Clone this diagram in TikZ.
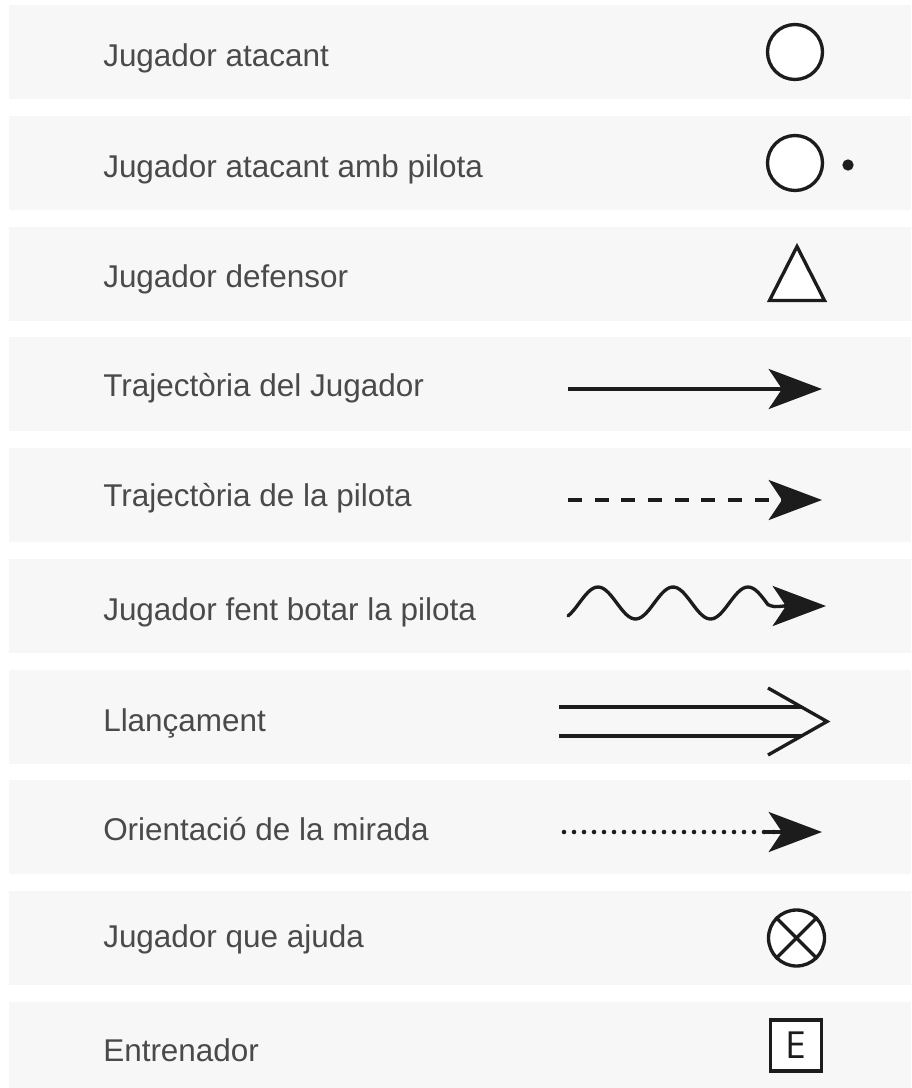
\documentclass[tikz,border=0pt]{standalone}
\usepackage{fontspec}
\setmainfont{Liberation Sans}
\newfontfamily\boxfont{Open Sans}
\usetikzlibrary{arrows.meta, positioning}

\definecolor{bandgrey}{HTML}{F7F7F7}
\definecolor{txtgrey}{HTML}{4A4A4A}
\definecolor{ink}{HTML}{1C1C1C}

\begin{document}
\begin{tikzpicture}[x=0.75pt, y=-0.75pt,
      band/.style={fill=bandgrey, draw=none},
      lbl/.style={anchor=base west, inner sep=0pt, text=txtgrey,
                  font=\fontsize{23.6}{28}\selectfont},
      sym/.style={draw=ink, line width=2.5pt, fill=white, inner sep=0pt},
      arrline/.style={draw=ink, line width=2.5pt,
                      -{Stealth[length=40pt, width=30pt, inset=10pt]}},
      plain/.style={draw=ink, line width=2.5pt}]

    \useasboundingbox (0,0) rectangle (911,1088);

    % grey bands, one per row
    \foreach \i in {0,...,9}
      \fill[band] (9, {5+110.75*\i}) rectangle (911, {min(99+110.75*\i,1088)});

    % row labels
    \foreach \nm/\txt/\yb in {att/Jugador atacant/67,
                              attb/Jugador atacant amb pilota/177,
                              def/Jugador defensor/287,
                              trj/Trajectòria del Jugador/396,
                              trp/Trajectòria de la pilota/506,
                              bot/Jugador fent botar la pilota/620,
                              llan/Llançament/731,
                              mir/Orientació de la mirada/840,
                              ajd/Jugador que ajuda/947,
                              ent/Entrenador/1061}
      \node[lbl] (lbl-\nm) at (103,\yb) {\txt};

    % attacker
    \node[sym, circle, minimum size=41.25pt] (att) at (795,52) {};

    % attacker with ball
    \node[sym, circle, minimum size=41.25pt] (attb) at (795,163) {};
    \node[circle, fill=ink, inner sep=0pt, minimum size=8.5pt] (ball) at (848,165) {};

    % defender
    \coordinate (tA) at (797,246.5);
    \coordinate (tB) at (824.5,300.5);
    \coordinate (tC) at (769.5,300.5);
    \filldraw[sym, line join=miter] (tA) -- (tB) -- (tC) -- cycle;

    % player path
    \coordinate (trj-s) at (568,389);
    \coordinate (trj-e) at (822,389);
    \draw[arrline] (trj-s) -- (trj-e);

    % ball path
    \coordinate (trp-s) at (568,500);
    \coordinate (trp-e) at (822,500);
    \draw[arrline, dash pattern=on 10.5pt off 9.5pt] (trp-s) -- (trp-e);

    % dribbling
    \coordinate (bot-m) at (784,606);
    \coordinate (bot-e) at (826,606);
    \draw[plain, line cap=round] plot[domain=568:768, samples=80]
        (\x, {603-16*cos(4.8*(\x-598))})
        .. controls (774,607) .. (bot-m);
    \draw[arrline] (bot-m) -- (bot-e);

    % shot
    \coordinate (llan-a) at (768,688);
    \coordinate (llan-t) at (827,721.5);
    \coordinate (llan-b) at (768,755);
    \draw[plain] (559,707) -- (802,707);
    \draw[plain] (559,736) -- (802,736);
    \draw[plain, line join=miter] (llan-a) -- (llan-t) -- (llan-b);

    % looking direction
    \coordinate (mir-s) at (564,832);
    \coordinate (mir-m) at (778,832);
    \coordinate (mir-e) at (822,832);
    \draw[draw=ink, line width=3.4pt, line cap=round, dash pattern=on 0pt off 7.5pt]
        (mir-s) -- (mir-m);
    \draw[arrline] ([xshift=-10pt]mir-m) -- (mir-e);

    % helper
    \node[sym, circle, minimum size=42pt] (ajd) at (796.5,938) {};
    \draw[plain] (ajd.45) -- (ajd.225);
    \draw[plain] (ajd.135) -- (ajd.315);

    % coach
    \node[sym, rectangle, minimum size=38.25pt, text=ink,
          font=\boxfont\fontsize{28}{30}\selectfont] (ent) at (796,1045.5) {E};

\end{tikzpicture}
\end{document}
